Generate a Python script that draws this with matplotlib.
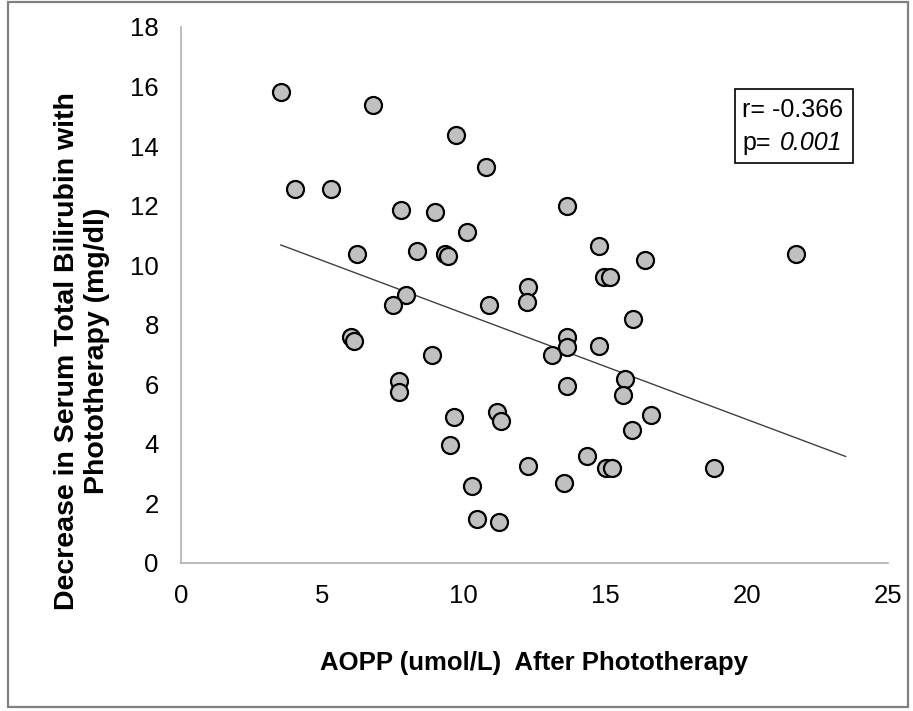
import numpy as np
import matplotlib.pyplot as plt
from matplotlib.patches import Rectangle

# AOPP after phototherapy (umol/L)
aopp = [3.53, 6.80, 9.71, 4.03, 5.31, 7.77, 8.98, 10.13, 6.22, 8.33,
        9.33, 9.45, 7.94, 7.48, 10.79, 13.65, 14.77, 16.41, 14.95, 15.18,
        12.27, 12.25, 10.89, 15.97, 13.65, 13.65, 13.13, 14.77, 8.87, 15.69,
        15.63, 13.65, 9.67, 11.16, 11.30, 16.63, 15.94, 9.52, 12.27, 14.34,
        15.02, 15.24, 18.83, 13.55, 10.28, 10.46, 11.26, 6.01, 6.12, 7.72,
        7.72, 21.74]
# decrease in serum total bilirubin (mg/dl)
tsb_drop = [15.81, 15.38, 14.37, 12.56, 12.56, 11.86, 11.79, 11.10, 10.37, 10.48,
            10.37, 10.31, 8.99, 8.66, 13.30, 11.99, 10.64, 10.17, 9.59, 9.59,
            9.28, 8.78, 8.66, 8.20, 7.60, 7.26, 6.97, 7.29, 6.97, 6.18,
            5.65, 5.95, 4.89, 5.08, 4.78, 4.97, 4.47, 3.96, 3.27, 3.59,
            3.19, 3.19, 3.20, 2.69, 2.58, 1.49, 1.38, 7.60, 7.47, 6.11,
            5.75, 10.37]
trend_end = 23.5

plt.rcParams['font.family'] = ['Liberation Sans', 'DejaVu Sans']

W, H = 913, 711
fig = plt.figure(figsize=(W / 100, H / 100), dpi=100)
ax = fig.add_axes([181 / W, 1 - 563 / H, (888 - 181) / W, (563 - 27) / H])

ax.scatter(aopp, tsb_drop, s=150, c='#c0c0c0', edgecolors='black',
           linewidths=1.6, zorder=3)

# linear trendline
slope, icpt = np.polyfit(aopp, tsb_drop, 1)
xs = np.array([min(aopp), trend_end])
ax.plot(xs, icpt + slope * xs, color='#404040', lw=1.0, zorder=2)

ax.set_xlim(0, 25)
ax.set_ylim(0, 18)
ax.set_xticks(range(0, 26, 5))
ax.set_yticks(range(0, 19, 2))
ax.tick_params(length=0, labelsize=18.5)
ax.tick_params(axis='y', pad=16)
ax.tick_params(axis='x', pad=15)
for s in ['top', 'right']:
    ax.spines[s].set_visible(False)
for s in ['left', 'bottom']:
    ax.spines[s].set_color('#b0b0b0')
    ax.spines[s].set_linewidth(1.2)

fig.text(534 / W, 1 - 663 / H, 'AOPP (umol/L)  After Phototherapy',
         fontsize=18.5, fontweight='bold', ha='center', va='center')
fig.text(82 / W, 1 - 351 / H,
         'Decrease in Serum Total Bilirubin with\nPhototherapy (mg/dl)',
         fontsize=20.5, fontweight='bold', rotation=90, ha='center',
         va='center', multialignment='center', linespacing=1.2)

# stats box
fig.patches.append(Rectangle((735 / W, 1 - 163 / H), 118 / W, 74 / H,
                             transform=fig.transFigure, fill=False,
                             edgecolor='black', lw=1.2))
fig.text(742 / W, 1 - 110 / H, 'r= -0.366', fontsize=18, va='center')
fig.text(742 / W, 1 - 143 / H, 'p=', fontsize=18, va='center')
fig.text(780 / W, 1 - 143 / H, '0.001', fontsize=18, style='italic', va='center')

# outer frame
fig.patches.append(Rectangle((8 / W, 4 / H), 900 / W, 705 / H,
                             transform=fig.transFigure, fill=False,
                             edgecolor='#808080', lw=1.6))

fig.savefig('out.png', dpi=100)
